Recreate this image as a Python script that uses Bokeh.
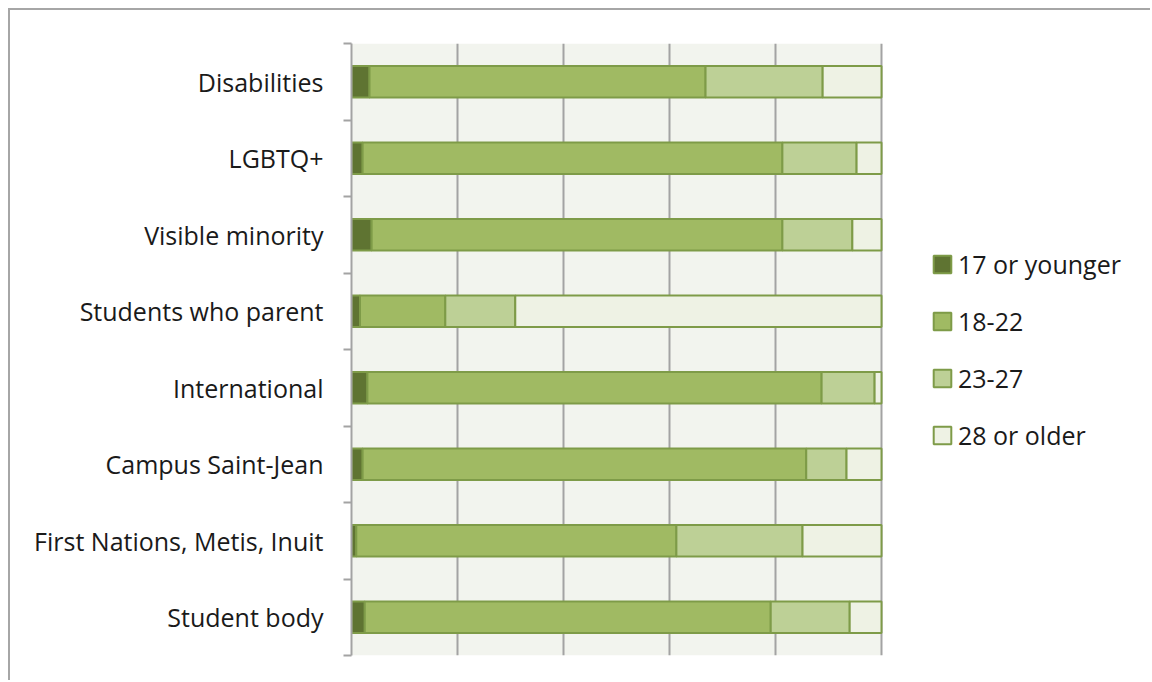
from bokeh.plotting import figure
from bokeh.models import ColumnDataSource, FixedTicker, Legend, LegendItem, Range1d, BoxAnnotation
from bokeh.embed import file_html
from bokeh.resources import INLINE

categories = ["Student body", "First Nations, Metis, Inuit", "Campus Saint-Jean", "International",
              "Students who parent", "Visible minority", "LGBTQ+", "Disabilities"]
age_groups = ["17 or younger", "18-22", "23-27", "28 or older"]
v17 = [2.5, 0.9, 2.1, 3.0, 1.6, 3.8, 2.1, 3.4]
v18_22 = [76.6, 60.4, 83.7, 85.7, 16.1, 77.5, 79.2, 63.4]
v23_27 = [14.9, 23.8, 7.6, 10.0, 13.2, 13.2, 14.0, 22.1]
v28 = [6.0, 14.9, 6.6, 1.3, 69.1, 5.5, 4.7, 11.1]

colors = ["#5F7432", "#A0BA63", "#BDD096", "#EEF2E4"]
edge = "#7E9B48"
font = "Open Sans"

# layout (pixels)
W, H = 1142, 672
left, top, bottom = 341, 33, 27
plot_px = 530  # width of the 0-100% area
frame_w = W - left
x_end = 100.0 * frame_w / plot_px

ypos = [i + 0.5 for i in range(len(categories))]
source = ColumnDataSource(dict(y=ypos, a=v17, b=v18_22, c=v23_27, d=v28))

p = figure(width=W, height=H, output_backend="svg", toolbar_location=None,
           x_range=Range1d(0, x_end), y_range=Range1d(0, len(categories)),
           min_border_left=left, min_border_right=0, min_border_top=top, min_border_bottom=bottom,
           background_fill_color="white", border_fill_color="white",
           outline_line_color=None,
           styles={"border-left": "2px solid #A6A6A6", "border-top": "2px solid #A6A6A6",
                   "margin-left": "8px", "margin-top": "8px"})

p.add_layout(BoxAnnotation(left=0, right=100, fill_color="#F2F4EE", fill_alpha=1,
                           line_color=None, level="image"))

renderers = p.hbar_stack(["a", "b", "c", "d"], y="y", height=0.41, source=source,
                         color=colors, line_color=edge, line_width=2)
for r, c in zip(renderers, colors):
    r.glyph.fill_color = c
    r.glyph.line_color = edge

p.xaxis.visible = False
p.xgrid.ticker = FixedTicker(ticks=[0, 20, 40, 60, 80, 100])
p.xgrid.grid_line_color = "#A3A3A3"
p.xgrid.grid_line_width = 2
p.ygrid.grid_line_color = None

yax = p.yaxis[0]
yax.ticker = FixedTicker(ticks=ypos, minor_ticks=list(range(len(categories) + 1)))
yax.major_label_overrides = {y: c for y, c in zip(ypos, categories)}
yax.major_tick_out = 0
yax.major_tick_in = 0
yax.minor_tick_out = 8
yax.minor_tick_in = 0
yax.minor_tick_line_color = "#A3A3A3"
yax.minor_tick_line_width = 2
yax.axis_line_color = "#A3A3A3"
yax.axis_line_width = 2
yax.major_label_standoff = 20
yax.major_label_text_font = font
yax.major_label_text_font_size = "25px"
yax.major_label_text_color = "#1a1a1a"

legend = Legend(items=[LegendItem(label=g, renderers=[r]) for g, r in zip(age_groups, renderers)],
                location=(580, 202), margin=0, padding=0, border_line_color=None,
                background_fill_alpha=0, glyph_width=22, glyph_height=22,
                label_height=36, spacing=21, label_standoff=5,
                label_text_font=font, label_text_font_size="25px", label_text_color="#1a1a1a")
p.add_layout(legend, "center")

open("out.html", "w").write(file_html(p, INLINE))
